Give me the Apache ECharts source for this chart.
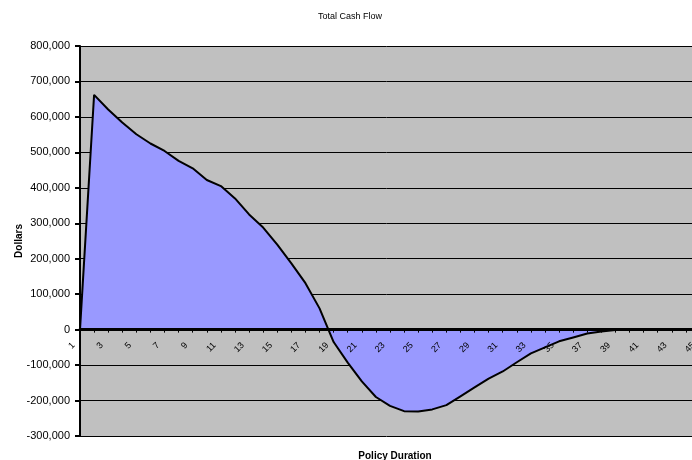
<!DOCTYPE html>
<html><head><meta charset="utf-8">
<script src="https://cdn.jsdelivr.net/npm/echarts@6/dist/echarts.min.js"></script>
<style>html,body{margin:0;padding:0;background:#fff}#c{width:692px;height:460px}</style>
</head><body><div id="c"></div>
<script>
const categories = Array.from({length:45}, (_, i) => String(i + 1));
const cashFlow = [
  0, 662000, 621000, 584000, 551000, 525000, 504000, 476000, 455000, 422000,
  405000, 370000, 325000, 288000, 240000, 187000, 131000, 60000, -35000, -93000,
  -146000, -190000, -215000, -230000, -231000, -225000, -213000, -188000, -163000, -138000,
  -118000, -92000, -67000, -50000, -33000, -22000, -11000, -5000, -1000, 0,
  0, 0, 0, 0, 0
];
const yMin = -300000, yMax = 800000, yStep = 100000;

const gridTop = 46, gridBottom = 24, H = 460;
const plotH = H - gridTop - gridBottom;
const zeroOffset = -plotH * (0 - yMin) / (yMax - yMin);

const chart = echarts.init(document.getElementById('c'), null, {renderer:'canvas'});
const font = 'Liberation Sans, Arial, sans-serif';
chart.setOption({
  animation: false,
  backgroundColor: '#ffffff',
  title: [
    {text:'Total Cash Flow', left: 345, top: 7, textAlign:'center',
     textStyle:{fontFamily:font, fontSize:9, fontWeight:'normal', color:'#000'}},
    {text:'Policy Duration', left: 390, top: 446, textAlign:'center',
     textStyle:{fontFamily:font, fontSize:10, fontWeight:'bold', color:'#000'}}
  ],
  grid: {left: 80, top: gridTop, bottom: gridBottom, right: -8, show: true,
         backgroundColor:'#C0C0C0', borderWidth: 0, containLabel:false, outerBoundsMode:'none'},
  xAxis: {
    type:'category', data: categories, boundaryGap:false,
    position:'bottom', offset: zeroOffset, z: 10,
    axisLine:{onZero:false, lineStyle:{color:'#000', width:3}},
    axisTick:{show:true, interval:0, length:3, lineStyle:{color:'#000'}},
    axisLabel:{interval:1, rotate:45, fontFamily:font, fontSize:9, color:'#000', margin:8,
      padding:[0, 9, 0, 0]},
    splitLine:{show:false}
  },
  yAxis: {
    type:'value', min:yMin, max:yMax, interval:yStep,
    name:'Dollars', nameLocation:'middle', nameRotate:90, nameGap:56, nameMoveOverlap:false,
    nameTextStyle:{fontFamily:font, fontSize:10, fontWeight:'bold', color:'#000'},
    axisLine:{show:true, lineStyle:{color:'#000', width:2}},
    axisTick:{show:true, length:5, lineStyle:{color:'#000', width:2}},
    axisLabel:{fontFamily:font, fontSize:11, color:'#000', margin:10,
      formatter: v => v.toLocaleString('en-US')},
    splitLine:{show:true, lineStyle:{color:'#000', width:1}}
  },
  series: [{
    type:'line', data: cashFlow, symbol:'none', smooth:false,
    lineStyle:{color:'#000', width:2},
    areaStyle:{color:'#9999FF', opacity:1, origin:0},
    z: 2
  }]
});
</script></body></html>
